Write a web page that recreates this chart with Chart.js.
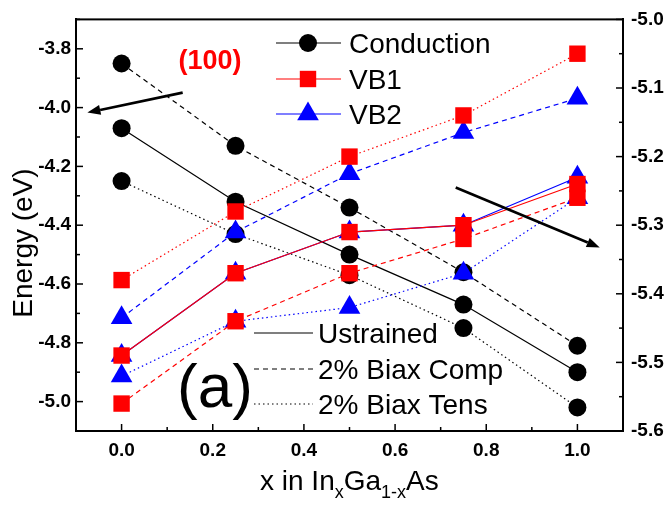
<!DOCTYPE html>
<html>
<head>
<meta charset="utf-8">
<script src="https://cdn.jsdelivr.net/npm/chart.js@4.4.1/dist/chart.umd.min.js"></script>
<style>
  html, body { margin: 0; padding: 0; background: #fff; }
</style>
</head>
<body>
<canvas id="chart" width="668" height="506"></canvas>
<script>
// Band edges of InxGa1-xAs vs In content, unstrained and under 2% biaxial strain.
// Conduction band is read on the left axis, valence bands (VB1, VB2) on the right one.

const xValues = [0, 0.25, 0.5, 0.75, 1.0];

const condUnstrained = [-4.07, -4.32, -4.50, -4.67, -4.90];
const condComp       = [-3.85, -4.13, -4.34, -4.56, -4.81];
const condTens       = [-4.25, -4.43, -4.57, -4.75, -5.02];

const vb1Unstrained  = [-5.49, -5.37, -5.31, -5.30, -5.24];
const vb1Comp        = [-5.56, -5.44, -5.37, -5.32, -5.26];
const vb1Tens        = [-5.38, -5.28, -5.20, -5.14, -5.05];

const vb2Unstrained  = [-5.49, -5.37, -5.31, -5.30, -5.23];
const vb2Comp        = [-5.435, -5.31, -5.225, -5.165, -5.115];
const vb2Tens        = [-5.52, -5.44, -5.42, -5.37, -5.26];

const bandNames   = ['Conduction', 'VB1', 'VB2'];
const strainNames = ['Ustrained', '2% Biax Comp', '2% Biax Tens'];

// labelled (major) ticks
const xMajor     = [0.0, 0.2, 0.4, 0.6, 0.8, 1.0];
const leftMajor  = [-5.0, -4.8, -4.6, -4.4, -4.2, -4.0, -3.8];
const rightMajor = [-5.6, -5.5, -5.4, -5.3, -5.2, -5.1, -5.0];

const FONT = '"Liberation Sans", Arial, sans-serif';
Chart.defaults.font.family = FONT;

// solid / dashed / dotted for the three strain cases
const strainDash = [[], [5, 4], [1.5, 3]];

const bands = [
  { name: bandNames[1], axis: 'y2', color: '#ff0000', style: 'rect', radius: 11.6,
    series: [vb1Unstrained, vb1Comp, vb1Tens], order: 1 },
  { name: bandNames[2], axis: 'y2', color: '#0000ff', style: 'triangle', radius: 12.5,
    series: [vb2Unstrained, vb2Comp, vb2Tens], order: 2 },
  { name: bandNames[0], axis: 'y', color: '#000000', style: 'circle', radius: 9,
    series: [condUnstrained, condComp, condTens], order: 3 }
];

const datasets = [];
bands.forEach(b => {
  b.series.forEach((vals, s) => {
    datasets.push({
      label: b.name + ' ' + strainNames[s],
      data: xValues.map((x, i) => ({ x: x, y: vals[i] })),
      yAxisID: b.axis,
      showLine: true,
      borderColor: b.color,
      borderWidth: 1.2,
      borderDash: strainDash[s],
      pointStyle: b.style,
      pointRadius: b.radius,
      pointHoverRadius: b.radius,
      pointBackgroundColor: b.color,
      pointBorderColor: b.color,
      pointBorderWidth: 0,
      order: b.order,
      clip: false
    });
  });
});

function isMajor(list, v) {
  return list.some(m => Math.abs(m - v) < 1e-6);
}

function drawArrow(ctx, x1, y1, x2, y2) {
  const ang = Math.atan2(y2 - y1, x2 - x1);
  const head = 13, half = 5;
  const bx = x2 - head * Math.cos(ang), by = y2 - head * Math.sin(ang);
  ctx.beginPath();
  ctx.moveTo(x1, y1);
  ctx.lineTo(bx, by);
  ctx.lineWidth = 2.6;
  ctx.strokeStyle = '#000';
  ctx.setLineDash([]);
  ctx.stroke();
  ctx.beginPath();
  ctx.moveTo(x2, y2);
  ctx.lineTo(bx + half * Math.sin(ang), by - half * Math.cos(ang));
  ctx.lineTo(bx - half * Math.sin(ang), by + half * Math.cos(ang));
  ctx.closePath();
  ctx.fillStyle = '#000';
  ctx.fill();
}

function drawMarker(ctx, style, r, x, y) {
  Chart.helpers.drawPoint(ctx, { pointStyle: style, radius: r, borderWidth: 0 }, x, y);
}

const overlay = {
  id: 'overlay',
  afterDraw(chart) {
    const { ctx, chartArea: a, scales } = chart;
    ctx.save();

    // frame
    ctx.strokeStyle = '#000';
    ctx.lineWidth = 2;
    ctx.strokeRect(a.left, a.top, a.right - a.left, a.bottom - a.top);

    // inward ticks, long for labelled ones
    ctx.lineWidth = 1.5;
    scales.x.ticks.forEach(t => {
      const p = scales.x.getPixelForValue(t.value);
      const len = t.label ? 7 : 4;
      ctx.beginPath(); ctx.moveTo(p, a.bottom); ctx.lineTo(p, a.bottom - len); ctx.stroke();
    });
    scales.y.ticks.forEach(t => {
      const p = scales.y.getPixelForValue(t.value);
      const len = t.label ? 7 : 4;
      ctx.beginPath(); ctx.moveTo(a.left, p); ctx.lineTo(a.left + len, p); ctx.stroke();
    });
    scales.y2.ticks.forEach(t => {
      const p = scales.y2.getPixelForValue(t.value);
      const len = t.label ? 7 : 4;
      ctx.beginPath(); ctx.moveTo(a.right, p); ctx.lineTo(a.right - len, p); ctx.stroke();
    });

    // arrows pointing to the axis each band group belongs to
    drawArrow(ctx,
      scales.x.getPixelForValue(0.134), scales.y.getPixelForValue(-3.949),
      scales.x.getPixelForValue(-0.075), scales.y.getPixelForValue(-4.017));
    drawArrow(ctx,
      scales.x.getPixelForValue(0.733), scales.y2.getPixelForValue(-5.245),
      scales.x.getPixelForValue(1.049), scales.y2.getPixelForValue(-5.3325));

    // band legend
    const legendOrder = [bands[2], bands[0], bands[1]];
    const topRows = [43, 79, 114];
    ctx.font = '28px ' + FONT;
    ctx.textAlign = 'left';
    ctx.textBaseline = 'alphabetic';
    legendOrder.forEach((b, i) => {
      const y = topRows[i];
      ctx.beginPath();
      ctx.setLineDash([]);
      ctx.lineWidth = 1.2;
      ctx.strokeStyle = b.color;
      ctx.moveTo(276, y); ctx.lineTo(341, y); ctx.stroke();
      ctx.fillStyle = b.color;
      drawMarker(ctx, b.style, b.radius, 308, y);
      ctx.fillStyle = '#000';
      ctx.fillText(b.name, 349, y + 10);
    });

    // strain legend
    const botRows = [333, 369, 404];
    strainNames.forEach((name, i) => {
      const y = botRows[i];
      ctx.beginPath();
      ctx.setLineDash(strainDash[i]);
      ctx.lineWidth = 1.2;
      ctx.strokeStyle = '#000';
      ctx.moveTo(254, y); ctx.lineTo(313, y); ctx.stroke();
      ctx.setLineDash([]);
      ctx.fillStyle = '#000';
      ctx.fillText(name, 318, y + 10);
    });

    // panel label and orientation
    ctx.font = '62px ' + FONT;
    ctx.fillText('(a)', 177, 407);
    ctx.font = 'bold 27px ' + FONT;
    ctx.fillStyle = '#ff0000';
    ctx.textAlign = 'center';
    ctx.fillText('(100)', 210, 69);

    // y axis title
    ctx.fillStyle = '#000';
    ctx.font = '28px ' + FONT;
    ctx.save();
    ctx.translate(32, 243);
    ctx.rotate(-Math.PI / 2);
    ctx.textAlign = 'center';
    ctx.fillText('Energy (eV)', 0, 0);
    ctx.restore();

    // x axis title with subscripts
    const parts = [['x in In', 28, 0], ['x', 18, 8], ['Ga', 28, 0], ['1-x', 18, 8], ['As', 28, 0]];
    ctx.textAlign = 'left';
    let cx = 260;
    parts.forEach(([txt, size, dy]) => {
      ctx.font = size + 'px ' + FONT;
      ctx.fillText(txt, cx, 490 + dy);
      cx += ctx.measureText(txt).width;
    });

    ctx.restore();
  }
};

new Chart(document.getElementById('chart'), {
  type: 'scatter',
  data: { datasets: datasets },
  options: {
    responsive: false,
    animation: false,
    devicePixelRatio: 1,
    layout: { padding: { top: 16, left: 0, right: 0, bottom: 0 } },
    plugins: { legend: { display: false }, tooltip: { enabled: false } },
    scales: {
      x: {
        type: 'linear', position: 'bottom', min: -0.1, max: 1.1,
        grid: { display: false, drawTicks: false },
        border: { display: true, width: 2, color: '#000' },
        ticks: {
          stepSize: 0.1, autoSkip: false, maxRotation: 0, padding: 8,
          color: '#000', font: { size: 19, weight: 'bold' },
          callback: v => isMajor(xMajor, v) ? v.toFixed(1) : ''
        },
        afterFit: s => { s.height = 75; }
      },
      y: {
        type: 'linear', position: 'left', min: -5.1, max: -3.7,
        grid: { display: false, drawTicks: false },
        border: { display: true, width: 2, color: '#000' },
        ticks: {
          stepSize: 0.1, autoSkip: false, padding: 5,
          color: '#000', font: { size: 19, weight: 'bold' },
          callback: v => isMajor(leftMajor, v) ? v.toFixed(1) : ''
        },
        afterFit: s => { s.width = 76; }
      },
      y2: {
        type: 'linear', position: 'right', min: -5.6, max: -5.0,
        grid: { display: false, drawTicks: false },
        border: { display: true, width: 2, color: '#000' },
        ticks: {
          stepSize: 0.05, autoSkip: false, padding: 8,
          color: '#000', font: { size: 19, weight: 'bold' },
          callback: v => isMajor(rightMajor, v) ? v.toFixed(1) : ''
        },
        afterFit: s => { s.width = 45; }
      }
    }
  },
  plugins: [overlay]
});
</script>
</body>
</html>
